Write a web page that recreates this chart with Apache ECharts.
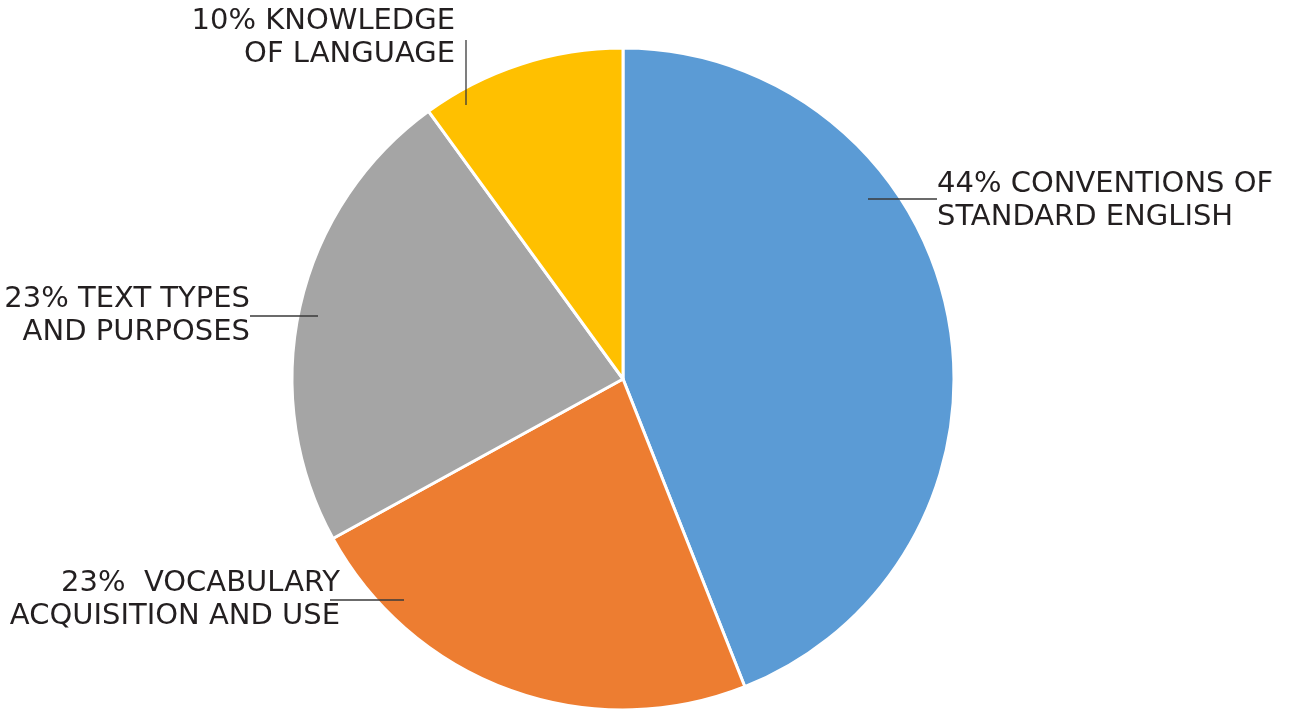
<!DOCTYPE html>
<html><head><meta charset="utf-8">
<script src="https://cdn.jsdelivr.net/npm/echarts@6/dist/echarts.min.js"></script>
<style>html,body{margin:0;padding:0;background:#fff}#c{width:1301px;height:709px}</style>
</head><body><div id="c"></div>
<script>
const categories = ['CONVENTIONS OF\nSTANDARD ENGLISH', ' VOCABULARY\nACQUISITION AND USE', 'TEXT TYPES\nAND PURPOSES', 'KNOWLEDGE\nOF LANGUAGE'];
const values = [44, 23, 23, 10];
const colors = ['#5B9BD5', '#ED7D31', '#A5A5A5', '#FFC000'];

// label placement (layout only)
const labelPos = [
  {x: 937, y: 201, align: 'left', line: [[868, 199], [937, 199]]},
  {x: 340, y: 600, align: 'right', line: [[404, 600], [330, 600]]},
  {x: 250, y: 316, align: 'right', line: [[318, 316], [250, 316]]},
  {x: 455, y: 38, align: 'right', line: [[466, 105], [466, 40]]}
];

const chart = echarts.init(document.getElementById('c'));
chart.setOption({
  animation: false,
  graphic: labelPos.map(p => ({
    type: 'line', z: 100,
    shape: {x1: p.line[0][0], y1: p.line[0][1], x2: p.line[1][0], y2: p.line[1][1]},
    style: {stroke: '#3a3a3a', lineWidth: 1.3}
  })),
  series: [{
    type: 'pie',
    center: [623, 379],
    radius: 331,
    startAngle: 90,
    clockwise: true,
    data: categories.map((n, i) => ({name: n, value: values[i], itemStyle: {color: colors[i]}})),
    itemStyle: {borderColor: '#fff', borderWidth: 3},
    label: {
      show: true,
      formatter: p => {
        const parts = p.name.split('\n');
        return p.value + '% ' + parts[0] + '\n' + parts[1];
      },
      fontFamily: 'DejaVu Sans',
      fontSize: 29,
      lineHeight: 33,
      color: '#231F20',
      overflow: 'none',
      width: 600
    },
    labelLine: {show: false},
    labelLayout: params => {
      const p = labelPos[params.dataIndex];
      return {x: p.x, y: p.y, align: p.align, verticalAlign: 'middle'};
    }
  }]
});
</script></body></html>
